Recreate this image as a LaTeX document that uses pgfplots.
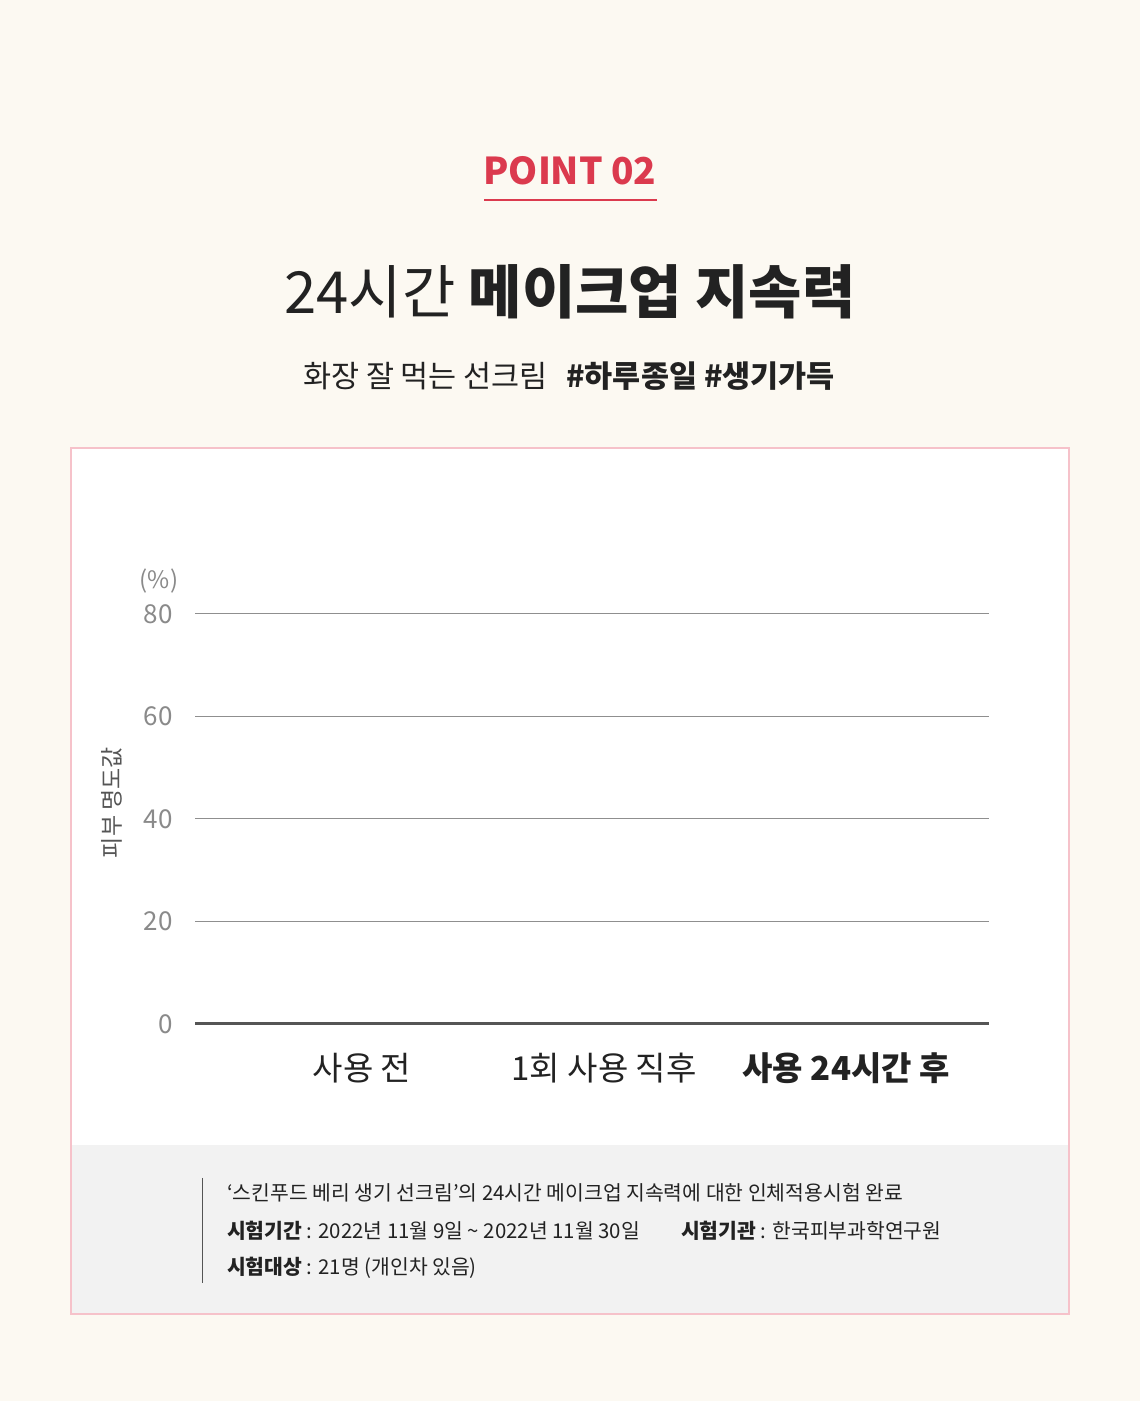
\documentclass[border=0pt]{standalone}
\usepackage{fontspec}
\usepackage{pgfplots}
\pgfplotsset{compat=1.18}
\setmainfont{Noto Sans CJK KR}
\newcommand\fs[1]{\fontsize{#1}{#1}\selectfont}
\definecolor{bgc}{HTML}{FCF9F2}
\definecolor{pinkb}{HTML}{F6C2CA}
\definecolor{footg}{HTML}{F2F2F2}
\definecolor{pointred}{HTML}{DB3A4E}
\definecolor{txt}{HTML}{222222}
\definecolor{tickg}{HTML}{8A8A8A}
\definecolor{gridg}{HTML}{8F8F8F}
\definecolor{axisg}{HTML}{555555}
\begin{document}
\begin{tikzpicture}[x=1pt,y=1pt]
\fill[bgc] (0,0) rectangle (1140,1401);
\useasboundingbox (0,0) rectangle (1140,1401);
% panel
\fill[white] (70,86) rectangle (1070,954);
\fill[footg] (70,86) rectangle (1070,256);
\draw[pinkb, line width=2pt] (71,87) rectangle (1069,953);
% heading
\node[text=pointred, font=\fs{37pt}\bfseries] at (570,1230) {POINT 02};
\draw[pointred, line width=1.4pt] (484,1201) -- (657,1201);
\node[text=txt, font=\fs{58pt}] at (570,1109) {24시간 \textbf{메이크업 지속력}};
\node[text=txt, font=\fs{30.5pt}] at (569,1025) {화장 잘 먹는 선크림\hspace{0.6em}\textbf{\#하루종일 \#생기가득}};

\begin{axis}[
    at={(195pt,377pt)}, anchor=south west,
    scale only axis, width=794pt, height=410pt,
    xmin=-0.69, xmax=2.59,
    ymin=0, ymax=80,
    ytick={0,20,...,80},
    xtick={0,1,2},
    xticklabels={사용 전, 1회 사용 직후, \textbf{사용 24시간 후}},
    axis x line*=bottom, axis y line*=left,
    x axis line style={draw=axisg, line width=3pt},
    y axis line style={draw=none},
    major tick length=0pt,
    ymajorgrids,
    grid style={gridg, line width=1pt},
    /pgf/number format/assume math mode=true,
    yticklabel style={font=\fs{26pt}, text=tickg, inner sep=0pt, anchor=east, xshift=-22pt},
    xticklabel style={font=\fs{33pt}, text=txt, anchor=center, yshift=-44pt},
    ylabel={피부 명도값},
    ylabel style={at={(axis description cs:-0.1045,0.54)}, anchor=center, font=\fs{23pt}, text=axisg},
]
\addplot[draw=none, forget plot] coordinates {(0,0) (1,0) (2,0)};
\end{axis}
\node[text=tickg, font=\fs{24pt}] at (159,820) {(\%)};

% footer
\draw[axisg, line width=1pt] (202,223) -- (202,118);
\node[anchor=west, text=txt, font=\fs{20.4pt}, inner sep=0pt] at (227,208)
  {‘스킨푸드 베리 생기 선크림’의 24시간 메이크업 지속력에 대한 인체적용시험 완료};
\node[anchor=west, text=txt, font=\fs{20.4pt}, inner sep=0pt] at (227,170)
  {\textbf{시험기간} : 2022년 11월 9일 \textasciitilde{} 2022년 11월 30일};
\node[anchor=west, text=txt, font=\fs{20.4pt}, inner sep=0pt] at (681,170)
  {\textbf{시험기관} : 한국피부과학연구원};
\node[anchor=west, text=txt, font=\fs{20.4pt}, inner sep=0pt] at (227,133)
  {\textbf{시험대상} : 21명 (개인차 있음)};
\end{tikzpicture}
\end{document}
